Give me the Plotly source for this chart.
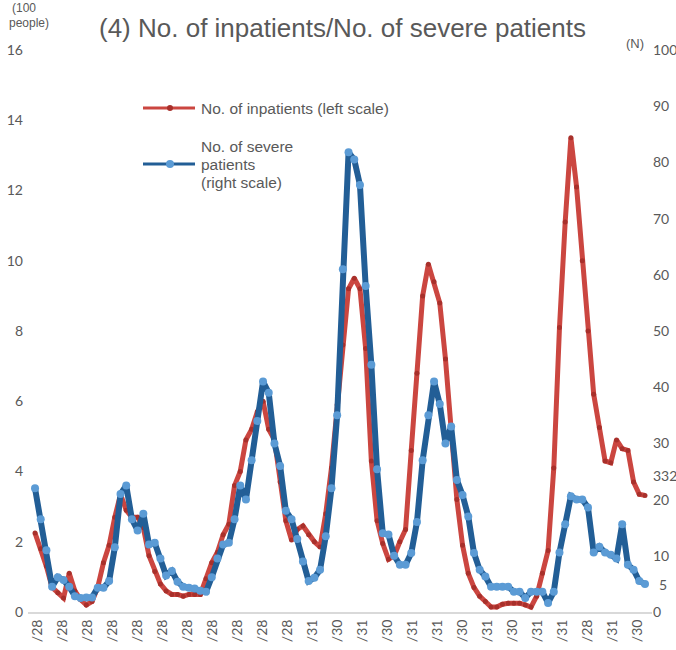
import plotly.graph_objects as go

# Weekly series (left scale: hundreds of people; right scale: number of patients)
inpatients = [
    2.25, 1.8, 1.3, 0.7, 0.55, 0.4, 1.1, 0.6, 0.35, 0.2,
    0.3, 0.7, 1.4, 1.9, 2.7, 3.35, 2.9, 2.7, 2.7, 2.4,
    1.6, 1.15, 0.8, 0.6, 0.5, 0.5, 0.45, 0.5, 0.5, 0.5,
    0.95, 1.4, 1.7, 2.2, 2.5, 3.6, 4.0, 4.9, 5.2, 5.7,
    6.0, 5.2, 4.9, 3.7, 2.6, 2.05, 2.35, 2.45, 2.2, 2.0,
    1.85, 2.8, 4.1, 5.9, 7.6, 9.2, 9.5, 9.2, 7.5, 4.3,
    2.6, 1.95, 1.5, 1.6, 2.0, 2.35, 4.6, 6.8, 9.0, 9.9,
    9.4, 8.8, 7.2, 5.0, 3.2, 1.9, 1.1, 0.7, 0.45, 0.3,
    0.14, 0.14, 0.22, 0.25, 0.25, 0.25, 0.2, 0.14, 0.45, 1.1,
    1.75, 4.1, 8.1, 11.1, 13.5, 12.1, 10.0, 8.0, 6.2, 5.25,
    4.3, 4.25, 4.9, 4.65, 4.6, 3.7, 3.35, 3.32,
]
severe = [
    22, 16.5, 11, 4.5, 6.2, 5.7, 4.5, 2.8, 2.5, 2.6,
    2.6, 4.3, 4.3, 5.5, 11.5, 21, 22.5, 16.5, 14.5, 17.5,
    12, 12.3, 9.5, 6.5, 7.3, 5.4, 4.5, 4.3, 4.2, 3.8,
    3.6, 6.2, 9.5, 12, 12.3, 16.5, 22.5, 20, 27, 34,
    41, 39, 30, 26, 18, 16.5, 13, 9, 5.5, 6.1,
    7.5, 13.5, 22, 35, 61, 81.8, 80.5, 76, 58, 44,
    25.4, 14, 13.8, 10, 8.4, 8.4, 10.5, 16, 27, 35,
    41, 37, 30, 33, 23.5, 20.8, 17, 10.5, 7.5, 6.3,
    4.5, 4.5, 4.5, 4.5, 3.6, 3.6, 2.5, 3.6, 3.6, 3.6,
    1.6, 3.6, 10.6, 15.6, 20.6, 20, 20, 18.6, 10.6, 11.6,
    10.6, 10.2, 9.5, 15.6, 8.4, 7.5, 5.5, 5,
]
month_labels = [
    "/28", "/28", "/28", "/28", "/28", "/28", "/28", "/28", "/28", "/28",
    "/28", "/31", "/30", "/31", "/30", "/31", "/31", "/30", "/31", "/30",
    "/31", "/31", "/28", "/31", "/30",
]

weeks = list(range(len(inpatients)))

W, H = 676, 650
ML, MR, MT, MB = 28, 24, 50, 38
PW, PH = W - ML - MR, H - MT - MB

GREY = "#595959"
RED_LINE = "#CB4640"
RED_DOT = "#A8302B"
BLUE_LINE = "#225E96"
BLUE_DOT = "#5B9BD5"
TXT = "Liberation Sans, Arial, sans-serif"
NUM = "Lato, sans-serif"

# x-axis: one unit per week; monthly ticks every ~4.39 weeks
x0, x1 = -1.23, 108.23
week_px = PW / (x1 - x0)
tick_pos = [(2 / week_px) + k * (25 / week_px) for k in range(len(month_labels))]

fig = go.Figure()
fig.add_trace(go.Scatter(
    x=weeks, y=inpatients, mode="lines+markers", name="No. of inpatients (left scale)",
    line=dict(color=RED_LINE, width=5), marker=dict(color=RED_DOT, size=5),
    yaxis="y", showlegend=False,
))
fig.add_trace(go.Scatter(
    x=weeks, y=severe, mode="lines+markers", name="No. of severe patients (right scale)",
    line=dict(color=BLUE_LINE, width=6), marker=dict(color=BLUE_DOT, size=8),
    yaxis="y2", showlegend=False,
))


def px_x(p):
    return (p - ML) / PW


def px_y(p):
    return (MT + PH - p) / PH


shapes = []
annotations = []

# hand-placed legend
for yy, col, dot, size in [(108, RED_LINE, RED_DOT, 3), (164, BLUE_LINE, BLUE_DOT, 4)]:
    shapes.append(dict(type="line", xref="paper", yref="paper",
                       x0=px_x(143), x1=px_x(195), y0=px_y(yy), y1=px_y(yy),
                       line=dict(color=col, width=3)))
    shapes.append(dict(type="circle", xref="paper", yref="paper",
                       x0=px_x(170 - size), x1=px_x(170 + size),
                       y0=px_y(yy + size), y1=px_y(yy - size),
                       fillcolor=dot, line=dict(width=0)))

legend_lines = [
    ("No. of inpatients (left scale)", 108),
    ("No. of severe", 146),
    ("patients", 164),
    ("(right scale)", 182),
]
for txt, yy in legend_lines:
    annotations.append(dict(text=txt, xref="paper", yref="paper",
                            x=px_x(199), y=px_y(yy), xanchor="left", yanchor="middle",
                            showarrow=False, font=dict(family=TXT, size=15.5, color=GREY)))

# axis unit captions
annotations.append(dict(text="(100", xref="paper", yref="paper", x=px_x(10), y=px_y(8),
                        xanchor="left", yanchor="middle", showarrow=False,
                        font=dict(family=TXT, size=12, color=GREY)))
annotations.append(dict(text="people)", xref="paper", yref="paper", x=px_x(7), y=px_y(23),
                        xanchor="left", yanchor="middle", showarrow=False,
                        font=dict(family=TXT, size=12, color=GREY)))
annotations.append(dict(text="(N)", xref="paper", yref="paper", x=px_x(624), y=px_y(44),
                        xanchor="left", yanchor="middle", showarrow=False,
                        font=dict(family=TXT, size=13, color=GREY)))

# latest-value labels
annotations.append(dict(text=str(round(inpatients[-1] * 100)), x=weeks[-1], y=inpatients[-1],
                        xref="x", yref="y", xanchor="left", yanchor="middle", showarrow=False,
                        xshift=6, yshift=20, font=dict(family=NUM, size=14, color=GREY)))
annotations.append(dict(text=str(round(severe[-1])), x=weeks[-1], y=severe[-1],
                        xref="x", yref="y2", xanchor="left", yanchor="middle", showarrow=False,
                        xshift=12, yshift=-1, font=dict(family=NUM, size=14, color=GREY)))

fig.update_layout(
    width=W, height=H,
    margin=dict(l=ML, r=MR, t=MT, b=MB, autoexpand=False),
    paper_bgcolor="white", plot_bgcolor="white",
    title=dict(text="(4) No. of inpatients/No. of severe patients",
               x=342.5 / W, xanchor="center", y=1 - 28 / H, yanchor="middle",
               font=dict(family=TXT, size=26, color=GREY)),
    xaxis=dict(range=[x0, x1], tickvals=tick_pos, ticktext=month_labels,
               tickangle=-90, showgrid=False, zeroline=False, automargin=False,
               showline=True, linecolor="#D9D9D9", linewidth=2, ticks="",
               tickfont=dict(family=NUM, size=14, color=GREY)),
    yaxis=dict(range=[0, 16], dtick=2, showgrid=False, zeroline=False,
               showline=False, ticks="", ticklabelstandoff=4, automargin=False,
               tickfont=dict(family=NUM, size=14, color=GREY)),
    yaxis2=dict(range=[0, 100], tickvals=[0, 10, 20, 30, 40, 50, 60, 70, 80, 90, 100],
                overlaying="y", side="right", showgrid=False, zeroline=False,
                showline=False, ticks="", ticklabelstandoff=0, automargin=False,
                tickfont=dict(family=NUM, size=14, color=GREY)),
    shapes=shapes,
    annotations=annotations,
)

fig.write_html("out.html")
